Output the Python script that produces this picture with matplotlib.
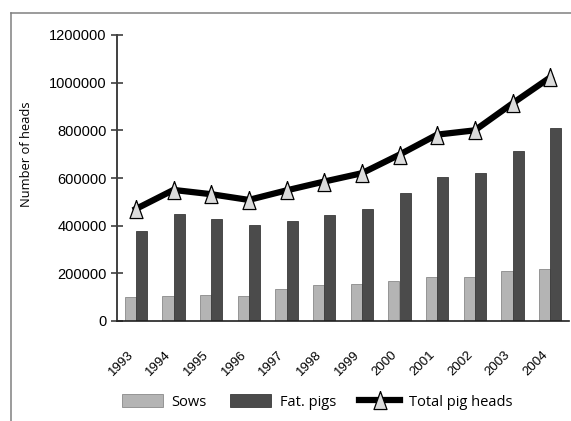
import matplotlib
matplotlib.use("Agg")
import matplotlib.pyplot as plt
import numpy as np
from matplotlib.lines import Line2D

# values
years = ['1993', '1994', '1995', '1996', '1997', '1998',
         '1999', '2000', '2001', '2002', '2003', '2004']
sows = [100000, 105000, 111000, 105000, 136000, 153000,
        157000, 169000, 186000, 186000, 208000, 220000]
fat_pigs = [376000, 447000, 426000, 402000, 419000, 443000,
            472000, 535000, 603000, 619000, 712000, 808000]
total_heads = [470000, 550000, 532000, 508000, 548000, 585000,
               620000, 698000, 782000, 800000, 913000, 1022000]
y_ticks = [0, 200000, 400000, 600000, 800000, 1000000, 1200000]

fig = plt.figure(figsize=(5.71, 4.21), dpi=100)
ax = fig.add_axes([117 / 571, 1 - 321 / 421, (569 - 117) / 571, (321 - 35) / 421])

x = np.arange(len(years))
bw = 0.3
b1 = ax.bar(x - bw / 2, sows, bw, color='#b4b4b4', edgecolor='#8a8a8a', linewidth=0.6, label='Sows', zorder=2)
b2 = ax.bar(x + bw / 2, fat_pigs, bw, color='#4b4b4b', edgecolor='#3a3a3a', linewidth=0.6, label='Fat. pigs', zorder=2)

# tall triangle marker like the original
tri = [(0, 1), (-0.72, -1), (0.72, -1), (0, 1)]
ln, = ax.plot(x, total_heads, color='black', linewidth=4.5, marker=tri, markersize=13,
              markerfacecolor='#dcdcdc', markeredgecolor='black', markeredgewidth=0.9,
              label='Total pig heads', zorder=3)

ax.set_xlim(-0.5, len(years) - 0.5)
ax.set_ylim(0, 1200000)
ax.set_yticks(y_ticks)
ax.set_yticklabels([str(v) for v in y_ticks], family='Liberation Sans', fontsize=10.5)
ax.tick_params(axis='y', direction='inout', length=9, width=1.2, color='#404040', pad=3)
ax.set_xticks(x)
ax.set_xticklabels(years, rotation=45, ha='right', va='top', family='Liberation Sans', fontsize=9.5)
ax.tick_params(axis='x', length=0, pad=20)

for side in ['top', 'right']:
    ax.spines[side].set_visible(False)
ax.spines['left'].set_color('#404040')
ax.spines['left'].set_linewidth(1.4)
ax.spines['bottom'].set_color('#202020')
ax.spines['bottom'].set_linewidth(1.2)

fig.text(27 / 571, 1 - 154 / 421, 'Number of heads', rotation=90, ha='center', va='center',
         family='Open Sans', fontsize=9.3)

# gray frame around the chart (only top and left show in the crop)
fig.add_artist(Line2D([11 / 571, 1.0], [1 - 13 / 421, 1 - 13 / 421], color='#808080', linewidth=1.1))
fig.add_artist(Line2D([11 / 571, 11 / 571], [1 - 13 / 421, 0.0], color='#808080', linewidth=1.1))

ax.legend(handles=[b1, b2, ln], loc='center', bbox_to_anchor=(317 / 571, 1 - 402 / 421),
          bbox_transform=fig.transFigure, ncol=3, frameon=False,
          prop={'family': 'Open Sans', 'size': 10.5},
          handlelength=2.8, handleheight=0.9, handletextpad=0.6, columnspacing=1.6, borderpad=0)

fig.savefig('out.png', dpi=100)
